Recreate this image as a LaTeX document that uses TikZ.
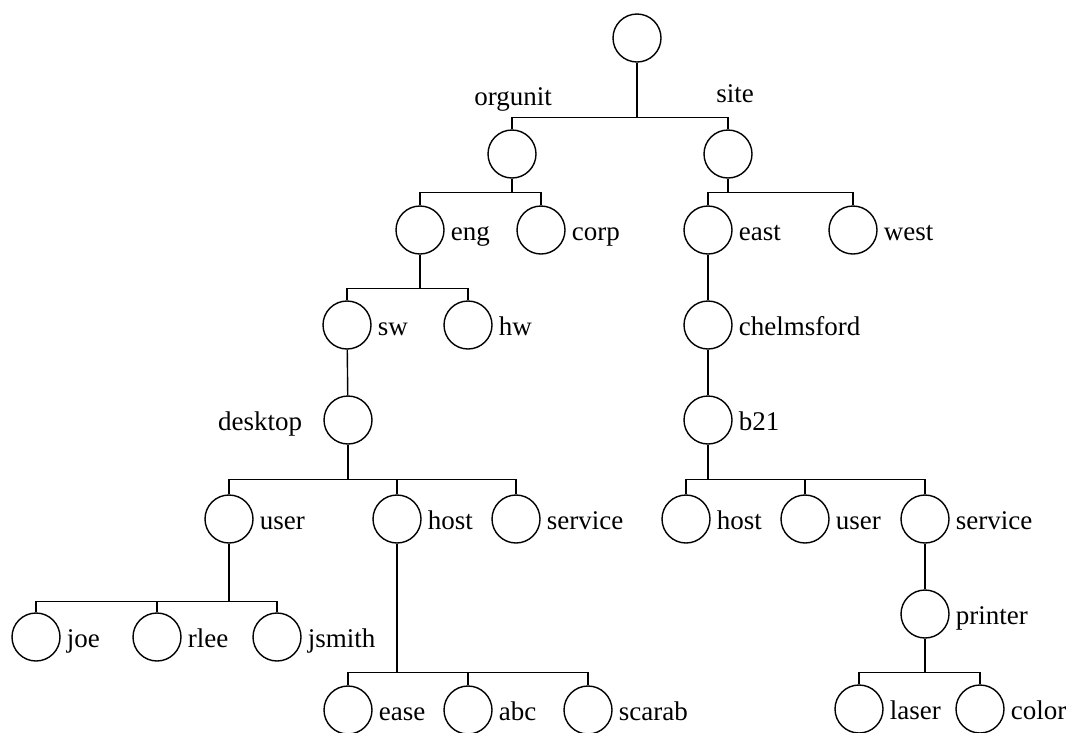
\documentclass[tikz,border=0pt]{standalone}
\usepackage{fontspec}
\setmainfont{Liberation Serif}

\begin{document}
\begin{tikzpicture}[x=1pt,y=-1pt, % pixel-like units, y runs down
    dir/.style={circle,draw,line width=1.4pt,minimum size=48pt,inner sep=0pt},
    link/.style={line width=1.4pt},
    tag/.style={font=\fontsize{27}{30}\selectfont,inner sep=0pt},
    every label/.style={font=\fontsize{27}{30}\selectfont,inner sep=0pt,text height=20pt,text depth=0pt},
    label distance=6pt]
    \useasboundingbox (0,0) rectangle (1068,732);
    \clip (0,0) rectangle (1068,732);

    % top levels
    \node[dir] (root) at (637,38) {};
    \node[dir] (org) at (512,154) {};
    \node[dir] (site) at (728,154) {};
    \node[tag,anchor=base] (orgunit) at (513,105) {orgunit};
    \node[tag,anchor=base] (sitetag) at (735,102) {site};

    \node[dir,label=right:eng] (eng) at (420,230) {};
    \node[dir,label=right:corp] (corp) at (541,230) {};
    \node[dir,label=right:east] (east) at (708,230) {};
    \node[dir,label=right:west] (west) at (853,230) {};

    \node[dir,label=right:sw] (sw) at (347,325) {};
    \node[dir,label=right:hw] (hw) at (468,325) {};
    \node[dir,label=right:chelmsford] (chelm) at (708,325) {};

    \node[dir,label={[label distance=21pt]left:desktop}] (desktop) at (348,420) {};
    \node[dir,label=right:b21] (b21) at (708,420) {};

    % desktop subtree
    \node[dir,label=right:user] (user) at (229,519) {};
    \node[dir,label=right:host] (host) at (397,519) {};
    \node[dir,label=right:service] (service) at (516,519) {};
    \node[dir,label=right:joe] (joe) at (36,637) {};
    \node[dir,label=right:rlee] (rlee) at (157,637) {};
    \node[dir,label=right:jsmith] (jsmith) at (277,637) {};
    \node[dir,label=right:ease] (ease) at (348,710) {};
    \node[dir,label=right:abc] (abc) at (468,710) {};
    \node[dir,label=right:scarab] (scarab) at (588,710) {};

    % b21 subtree
    \node[dir,label=right:host] (bhost) at (686,519) {};
    \node[dir,label=right:user] (buser) at (805,519) {};
    \node[dir,label=right:service] (bservice) at (925,519) {};
    \node[dir,label=right:printer] (printer) at (925,614) {};
    \node[dir,label=right:laser] (laser) at (859,709) {};
    \node[dir,label=right:color] (color) at (980,709) {};

    % connectors
    \foreach \c in {org,site} \draw[link] (root.south) -- ++(0,55) -| (\c.north);
    \foreach \c in {eng,corp} \draw[link] (org.south) -- ++(0,14) -| (\c.north);
    \foreach \c in {east,west} \draw[link] (site.south) -- ++(0,14) -| (\c.north);
    \foreach \c in {sw,hw} \draw[link] (eng.south) -- ++(0,34) -| (\c.north);
    \draw[link] (east) -- (chelm);
    \draw[link] (chelm) -- (b21);
    \draw[link] (sw) -- (desktop);
    \foreach \c in {user,host,service} \draw[link] (desktop.south) -- ++(0,35) -| (\c.north);
    \foreach \c in {bhost,buser,bservice} \draw[link] (b21.south) -- ++(0,35) -| (\c.north);
    \foreach \c in {joe,rlee,jsmith} \draw[link] (user.south) -- ++(0,58) -| (\c.north);
    \foreach \c in {ease,abc,scarab} \draw[link] (host.south) -- ++(0,129) -| (\c.north);
    \draw[link] (bservice) -- (printer);
    \foreach \c in {laser,color} \draw[link] (printer.south) -- ++(0,34) -| (\c.north);
\end{tikzpicture}
\end{document}
